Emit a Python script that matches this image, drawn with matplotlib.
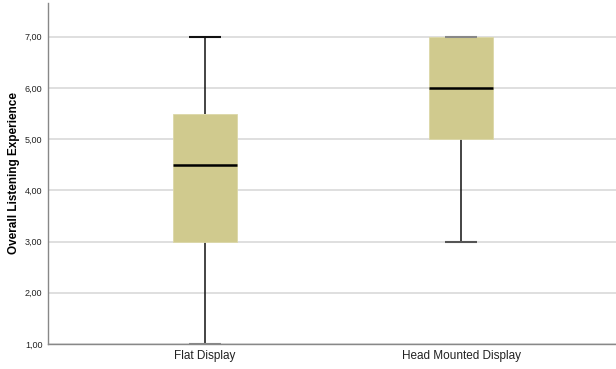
import matplotlib.pyplot as plt
from matplotlib.patches import Rectangle

plt.rcParams['font.family'] = ['Liberation Sans', 'DejaVu Sans']

# summary values per group (SPSS-style boxplot)
groups = ["Flat Display", "Head Mounted Display"]
whisker_low = [1.0, 3.0]
q1 = [3.0, 5.0]
median = [4.5, 6.0]
q3 = [5.5, 7.0]
whisker_high = [7.0, 7.0]
yticks = [1, 2, 3, 4, 5, 6, 7]

box_color = "#D0CA8E"
box_w = 0.25
cap_w = 0.125

fig = plt.figure(figsize=(6.16, 3.69), dpi=100)
ax = fig.add_axes([48 / 616, 25 / 369, 568 / 616, 341 / 369])

for i, g in enumerate(groups):
    ax.vlines(i, whisker_low[i], q1[i], color="#111111", lw=1.1, zorder=2)
    ax.vlines(i, q3[i], whisker_high[i], color="#111111", lw=1.1, zorder=2)
    # caps sitting on a box edge or the axis line come out grey
    hi_col = "#888888" if whisker_high[i] == q3[i] else "#111111"
    lo_col = "#888888" if whisker_low[i] == 1.0 else "#555555"
    ax.hlines(whisker_high[i], i - cap_w / 2, i + cap_w / 2, color=hi_col, lw=1.5, zorder=4)
    ax.hlines(whisker_low[i], i - cap_w / 2, i + cap_w / 2, color=lo_col, lw=1.5, zorder=4)
    ax.add_patch(Rectangle((i - box_w / 2, q1[i]), box_w, q3[i] - q1[i],
                           facecolor=box_color, edgecolor="#DCD8A8", lw=0.6, zorder=3))
    ax.hlines(median[i], i - box_w / 2, i + box_w / 2, color="black", lw=1.8, zorder=5)

ax.set_xlim(-0.613, 1.605)
ax.set_ylim(1.0, 7.66)
ax.set_xticks(range(len(groups)))
ax.set_xticklabels(groups, fontsize=8.5, color="#222222")
ax.set_yticks(yticks)
ax.set_yticklabels([f"{v:.2f}".replace(".", ",") for v in yticks], fontsize=6.5, color="#222222")
ax.tick_params(length=0, pad=4)
ax.yaxis.grid(True, color="#D9D9D9", lw=1.2, zorder=0)
ax.set_axisbelow(True)
ax.set_ylabel("Overall Listening Experience", fontsize=8.5, fontweight="bold")
ax.yaxis.set_label_coords(-28 / 568, 0.5)

for s in ["top", "right"]:
    ax.spines[s].set_visible(False)
for s in ["left", "bottom"]:
    ax.spines[s].set_color("#888888")
    ax.spines[s].set_linewidth(1.0)

fig.savefig("out.png", dpi=100)
